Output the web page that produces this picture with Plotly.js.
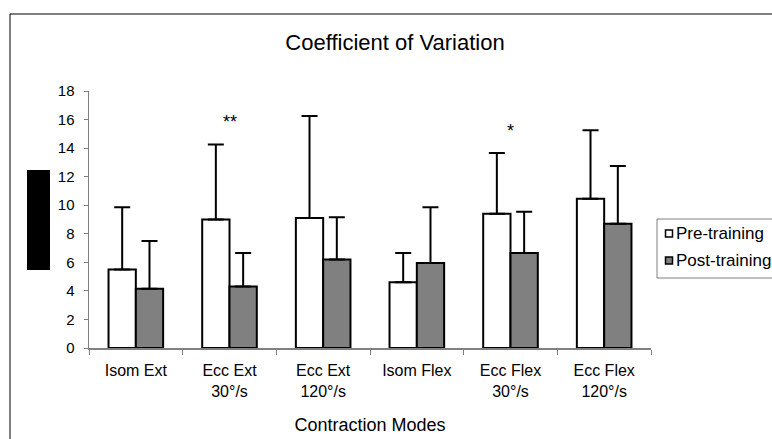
<!DOCTYPE html>
<html>
<head>
<meta charset="utf-8">
<script src="https://cdn.plot.ly/plotly-3.0.1.min.js"></script>
<style>
  html, body { margin: 0; padding: 0; background: #fff; }
  #chart { width: 772px; height: 439px; }
</style>
</head>
<body>
<div id="chart"></div>
<script>
// Contraction modes (two-line tick labels)
const modes = ["Isom Ext", "Ecc Ext<br>30°/s", "Ecc Ext<br>120°/s", "Isom Flex", "Ecc Flex<br>30°/s", "Ecc Flex<br>120°/s"];

// Coefficient of variation, mean and SD
const preMean  = [5.5, 9.0, 9.1, 4.6, 9.4, 10.45];
const preSD    = [4.35, 5.25, 7.15, 2.05, 4.25, 4.8];
const postMean = [4.15, 4.3, 6.2, 5.95, 6.65, 8.7];
const postSD   = [3.35, 2.35, 2.95, 3.9, 2.9, 4.05];

// Significance markers
const sigModes = ["Ecc Ext<br>30°/s", "Ecc Flex<br>30°/s"];
const sigText  = ["**", "*"];
const sigY     = [15.85, 15.2];

const FONT = "Liberation Sans, Arial, sans-serif";
const outline = { color: "#000", width: 2 };
const PRE_FILL = "#ffffff", POST_FILL = "#808080";

const traces = [
  {
    type: "bar", name: "Pre-training",
    x: modes, y: preMean,
    marker: { color: PRE_FILL, line: outline },
    error_y: { type: "data", array: preSD, arrayminus: preMean.map(() => 0), symmetric: false,
               color: "#000", thickness: 2, width: 8 }
  },
  {
    type: "bar", name: "Post-training",
    x: modes, y: postMean,
    marker: { color: POST_FILL, line: outline },
    error_y: { type: "data", array: postSD, arrayminus: postMean.map(() => 0), symmetric: false,
               color: "#000", thickness: 2, width: 8 }
  }
];

const L = 89, R = 121, T = 91, B = 91;
const W = 772 - L - R, H = 439 - T - B;
const px = v => (v - L) / W;          // pixel x -> paper x
const py = v => (439 - B - v) / H;    // pixel y -> paper y

// Compact boxed key at the right edge: small swatch right beside each name
const keyRows = [
  { name: traces[0].name, fill: PRE_FILL,  yc: 233.5 },
  { name: traces[1].name, fill: POST_FILL, yc: 260.5 }
];
const keyShapes = [
  { type: "rect", xref: "paper", yref: "paper",
    x0: px(657), x1: px(800), y0: py(278), y1: py(219),
    line: { color: "#808080", width: 1 }, fillcolor: "#fff" }
].concat(keyRows.map(r => ({
  type: "rect", xref: "paper", yref: "paper",
  x0: px(665.5), x1: px(672.5), y0: py(r.yc + 3.5), y1: py(r.yc - 3.5),
  line: { color: "#000", width: 1.5 }, fillcolor: r.fill
})));
const keyLabels = keyRows.map(r => ({
  xref: "paper", yref: "paper", x: px(674), y: py(r.yc),
  xanchor: "left", yanchor: "middle", text: r.name, showarrow: false,
  font: { family: FONT, size: 17, color: "#000" }
}));

const layout = {
  width: 772, height: 439,
  margin: { l: L, r: R, t: T, b: B, pad: 0, autoexpand: false },
  paper_bgcolor: "#fff", plot_bgcolor: "#fff",
  font: { family: FONT, color: "#000", size: 14 },
  barmode: "group", bargap: 0.417, bargroupgap: 0,
  showlegend: false,
  title: {
    text: "Coefficient of Variation",
    font: { family: FONT, size: 22, color: "#000" },
    x: 395 / 772, xanchor: "center", xref: "container",
    y: 1 - 42 / 439, yanchor: "middle", yref: "container"
  },
  xaxis: {
    type: "category",
    showline: true, linecolor: "#808080", linewidth: 1.5,
    ticks: "outside", tickson: "boundaries", ticklen: 5, tickcolor: "#808080", tickwidth: 1,
    ticklabelstandoff: 7,
    tickfont: { family: FONT, size: 16, color: "#000" },
    showgrid: false, zeroline: false,
    title: { text: "Contraction Modes", font: { family: FONT, size: 18, color: "#000" }, standoff: 20 }
  },
  yaxis: {
    range: [0, 18], dtick: 2,
    showline: true, linecolor: "#808080", linewidth: 1.5,
    ticks: "outside", ticklen: 4, tickcolor: "#808080", tickwidth: 1,
    ticklabelstandoff: 6,
    tickfont: { family: FONT, size: 15, color: "#000" },
    showgrid: false, zeroline: false
  },
  annotations: sigModes.map((m, i) => ({
    x: m, y: sigY[i], xref: "x", yref: "y", text: sigText[i], showarrow: false,
    font: { family: FONT, size: 18, color: "#000" }
  })).concat(keyLabels),
  shapes: [
    // outer frame
    { type: "rect", xref: "paper", yref: "paper",
      x0: px(10), x1: 2, y0: -2, y1: py(14),
      line: { color: "#000", width: 1 }, fillcolor: "rgba(0,0,0,0)", layer: "below" },
    // solid block left of the value axis
    { type: "rect", xref: "paper", yref: "paper",
      x0: px(27), x1: px(50), y0: py(270), y1: py(170),
      line: { width: 0 }, fillcolor: "#000" }
  ].concat(keyShapes)
};

Plotly.newPlot("chart", traces, layout, { staticPlot: true, displayModeBar: false });
</script>
</body>
</html>
